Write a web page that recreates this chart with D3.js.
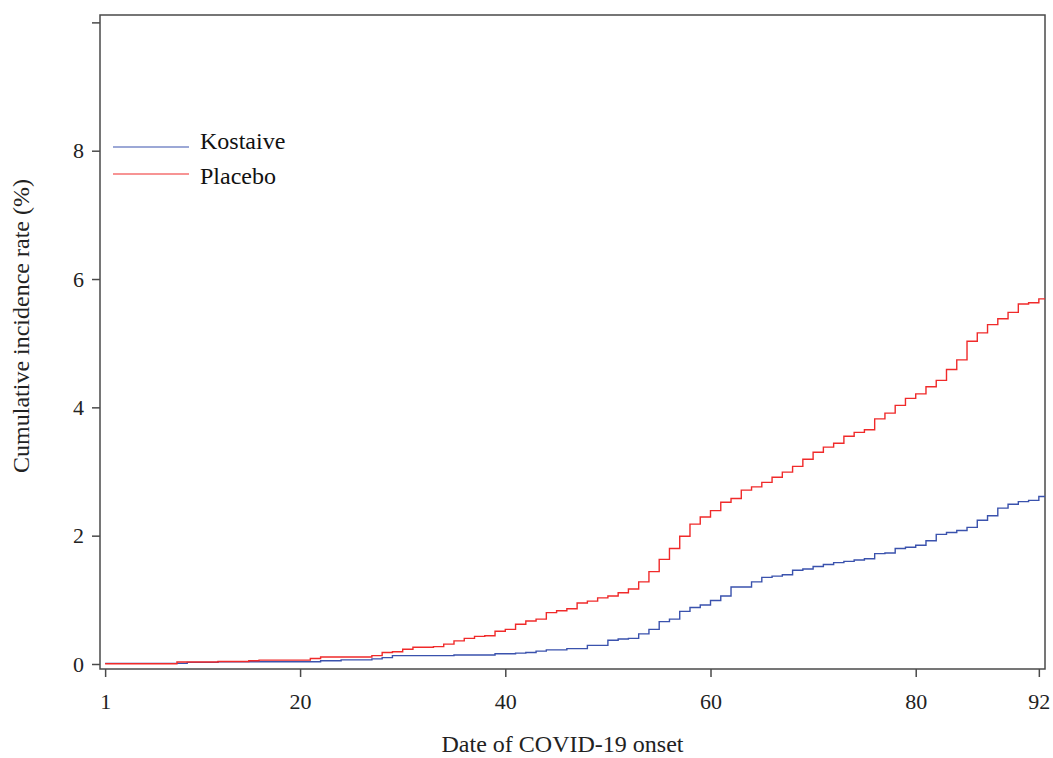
<!DOCTYPE html>
<html>
<head>
<meta charset="utf-8">
<script src="https://cdn.jsdelivr.net/npm/d3@7"></script>
<style>
  html, body { margin: 0; padding: 0; background: #fff; }
  svg { display: block; font-family: "Liberation Serif", "Times New Roman", serif; }
</style>
</head>
<body>
<svg id="chart" width="1053" height="758"></svg>
<script>
// ---- data ----
const days = d3.range(1, 93);
const kostaive = [
  0.01,0.01,0.01,0.01,0.01,0.01,0.01,0.01,
  0.025,0.025,0.025,
  0.035,0.035,0.035,0.035,0.035,0.035,0.035,0.035,0.035,0.035,
  0.05,0.05,
  0.065,0.065,0.065,
  0.08,0.10,
  0.13,0.13,0.13,0.13,0.13,0.13,
  0.14,0.14,0.14,0.14,
  0.16,0.16,
  0.17,0.18,0.20,0.22,0.22,0.24,0.24,0.29,0.29,0.37,
  0.39,0.40,0.47,0.54,0.66,0.70,0.82,0.88,0.92,0.99,
  1.06,1.20,1.20,1.28,1.35,1.37,1.39,1.46,1.48,1.52,
  1.55,1.58,1.60,1.62,1.64,1.72,1.73,1.80,1.82,1.85,
  1.92,2.02,2.05,2.08,2.13,2.24,2.31,2.43,2.49,2.53,
  2.55,2.61
];
const placebo = [
  0.005,0.005,0.005,0.005,0.005,0.005,0.005,
  0.03,0.03,0.03,0.03,
  0.04,0.04,0.04,
  0.05,
  0.06,0.06,0.06,0.06,0.06,
  0.085,
  0.11,0.11,0.11,0.11,0.11,
  0.13,0.18,0.19,0.23,0.26,0.26,0.27,0.31,0.36,0.40,
  0.43,0.44,0.51,0.54,
  0.62,0.67,0.70,0.80,0.83,0.86,0.95,0.98,1.03,1.06,
  1.11,1.17,1.28,1.44,1.63,1.80,1.99,2.18,2.29,2.39,
  2.52,2.58,2.71,2.76,2.83,2.91,2.99,3.08,3.19,3.30,
  3.38,3.44,3.55,3.61,3.65,3.82,3.91,4.03,4.14,4.21,
  4.32,4.42,4.59,4.74,5.03,5.16,5.29,5.38,5.48,5.61,
  5.63,5.69
];
const seriesNames = ["Kostaive", "Placebo"];
const seriesColors = ["#3a52ad", "#f02a2a"];
const xTicks = [1, 20, 40, 60, 80, 92];
const yTicks = [0, 2, 4, 6, 8, 10];
const yTickLabels = ["0", "2", "4", "6", "8", ""];
const xTitle = "Date of COVID-19 onset";
const yTitle = "Cumulative incidence rate (%)";

// ---- layout ----
const svg = d3.select("#chart");
const L = 100, T = 15, R = 1045, B = 669;
const x = d3.scaleLinear().domain([0.5, 92.6]).range([L, R]);
const y = d3.scaleLinear().domain([-0.078, 10.115]).range([B, T]);

// frame
svg.append("rect")
  .attr("x", L).attr("y", T).attr("width", R - L).attr("height", B - T)
  .attr("fill", "none").attr("stroke", "#4a4a4a").attr("stroke-width", 1.5);

// clip
svg.append("clipPath").attr("id", "clip")
  .append("rect").attr("x", L).attr("y", T).attr("width", R - L).attr("height", B - T);

// axes
const xAxis = d3.axisBottom(x).tickValues(xTicks).tickSize(8).tickPadding(16).tickFormat(d3.format("d"));
const gx = svg.append("g").attr("transform", `translate(0,${B})`).call(xAxis);
gx.select(".domain").remove();
gx.selectAll(".tick line").attr("stroke", "#4a4a4a").attr("stroke-width", 1.5);
gx.selectAll(".tick text").attr("font-size", 22).attr("fill", "#222")
  .attr("font-family", "Liberation Serif, Times New Roman, serif");

const yAxis = d3.axisLeft(y).tickValues(yTicks).tickSize(8).tickPadding(8)
  .tickFormat((d, i) => yTickLabels[i]);
const gy = svg.append("g").attr("transform", `translate(${L},0)`).call(yAxis);
gy.select(".domain").remove();
gy.selectAll(".tick line").attr("stroke", "#4a4a4a").attr("stroke-width", 1.5);
gy.selectAll(".tick text").attr("font-size", 22).attr("fill", "#222")
  .attr("font-family", "Liberation Serif, Times New Roman, serif");

// titles
svg.append("text").attr("x", (L + R) / 2 - 10).attr("y", 752)
  .attr("text-anchor", "middle").attr("font-size", 24).attr("fill", "#222")
  .text(xTitle);
svg.append("text").attr("transform", `translate(29,${326}) rotate(-90)`)
  .attr("text-anchor", "middle").attr("font-size", 24).attr("fill", "#222")
  .text(yTitle);

// step lines
const line = d3.line()
  .x(d => x(d[0])).y(d => y(d[1]))
  .curve(d3.curveStepAfter);
const allSeries = [kostaive, placebo];
allSeries.forEach((vals, si) => {
  const pts = days.map((d, i) => [d, vals[i]]);
  pts.push([x.domain()[1], vals[vals.length - 1]]);
  svg.append("path")
    .datum(pts)
    .attr("clip-path", "url(#clip)")
    .attr("fill", "none")
    .attr("stroke", seriesColors[si])
    .attr("stroke-width", 1.4)
    .attr("d", line);
});

// legend
const legY = [147, 174];
const legTextY = [149, 184];
seriesNames.forEach((name, i) => {
  svg.append("line").attr("x1", 113).attr("x2", 189)
    .attr("y1", legY[i]).attr("y2", legY[i])
    .attr("stroke", seriesColors[i]).attr("stroke-width", 1.2);
  svg.append("text").attr("x", 200).attr("y", legTextY[i])
    .attr("font-size", 24).attr("fill", "#111").text(name);
});
</script>
</body>
</html>
